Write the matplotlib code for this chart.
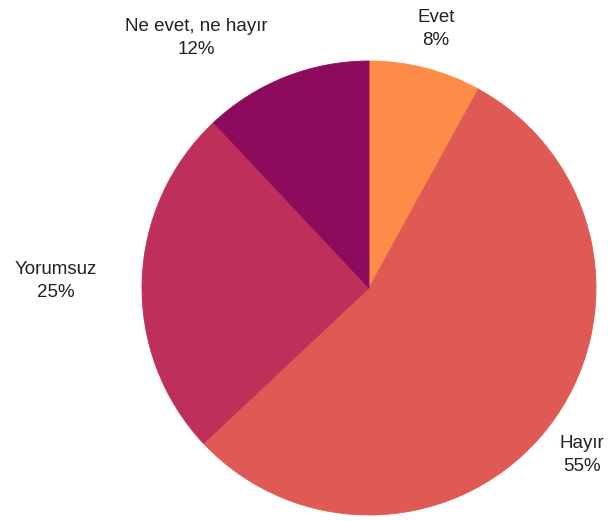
import matplotlib
matplotlib.use("Agg")
import matplotlib.pyplot as plt

# Data
categories = ["Evet", "Hayır", "Yorumsuz", "Ne evet, ne hayır"]
values = [8, 55, 25, 12]
colors = ["#fd8c48", "#e05a55", "#be2f5a", "#8c0b5c"]

plt.rcParams['font.family'] = ['Liberation Sans', 'DejaVu Sans']

W, H = 616, 521
cx, cy, R = 369, 288, 227  # pie layout in pixels

fig = plt.figure(figsize=(W / 100, H / 100), dpi=100)
ax = fig.add_axes([0, 0, 1, 1])
wedges, _ = ax.pie(values, colors=colors, startangle=90, counterclock=False,
                   radius=1, center=(0, 0), wedgeprops=dict(linewidth=0.6))
for w, c in zip(wedges, colors):
    w.set_edgecolor(c)
ax.set_xlim(-cx / R, (W - cx) / R)
ax.set_ylim(-(H - cy) / R, cy / R)
ax.set_aspect('equal', adjustable='box')
ax.axis('off')

# label block centres (pixels)
label_pos = [(436, 29), (582, 455), (56, 281), (196, 38)]
for name, v, (px, py) in zip(categories, values, label_pos):
    fig.text(px / W, 1 - py / H, f"{name}\n{v}%", ha='center', va='center',
             fontsize=13.5, color='#222222', linespacing=1.45,
             multialignment='center')

fig.savefig("out.png", dpi=100, facecolor='white')
